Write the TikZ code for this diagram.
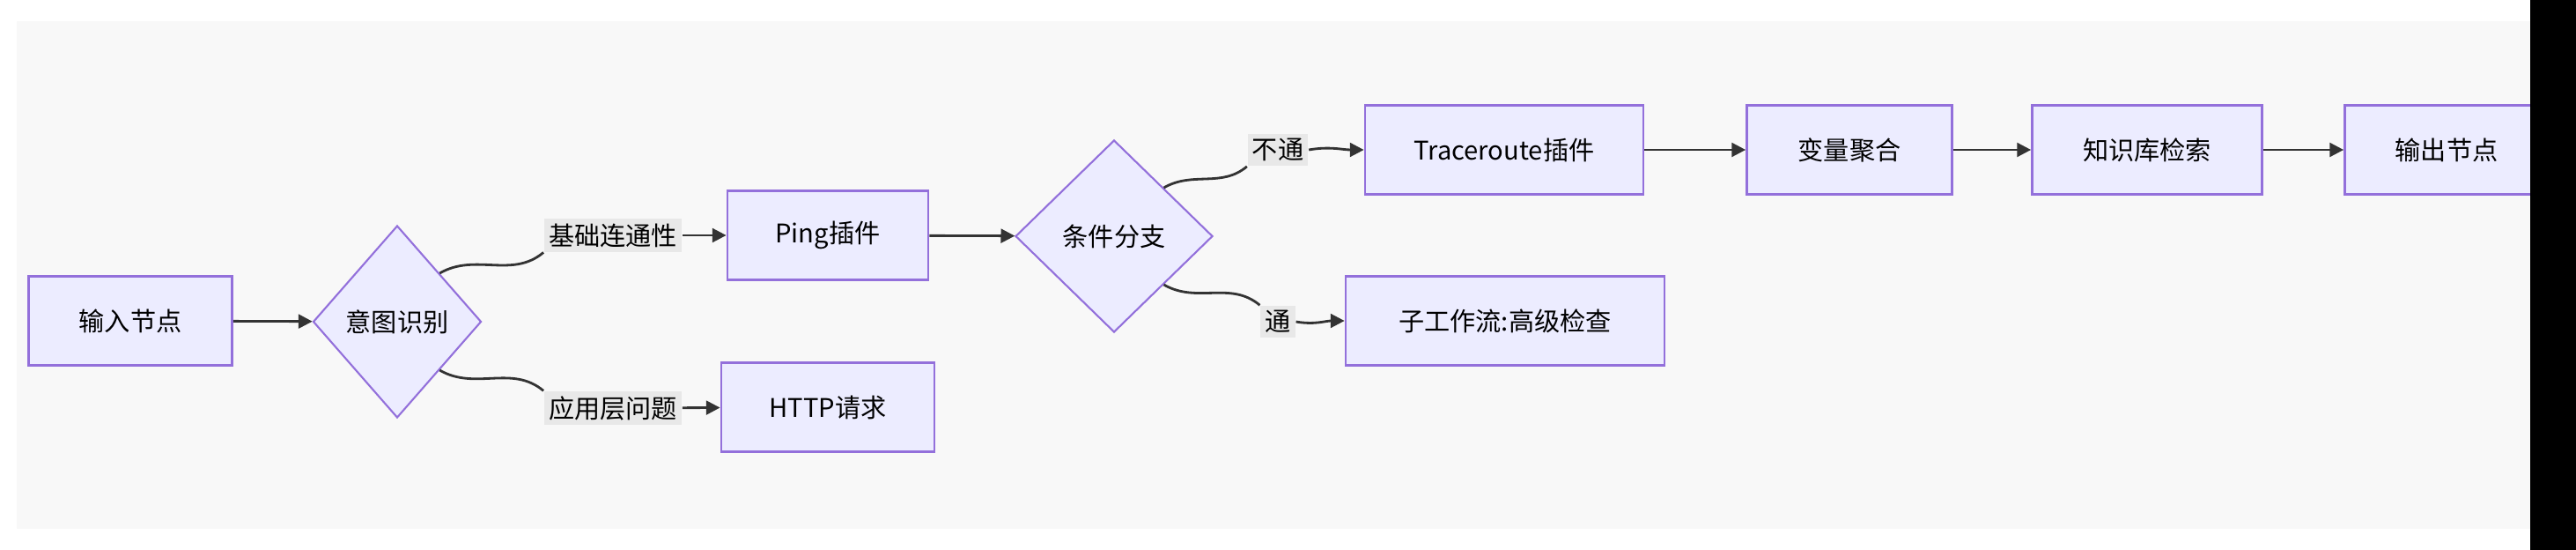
\documentclass[tikz,border=0pt]{standalone}
\usepackage{fontspec}
\setmainfont{Noto Sans CJK SC}
\usetikzlibrary{shapes.geometric,arrows.meta}
\definecolor{knotenfill}{HTML}{ECECFF}
\definecolor{knotenrand}{HTML}{9370DB}
\definecolor{hintergrund}{HTML}{F8F8F8}
\definecolor{labelfill}{HTML}{E8E8E8}
\definecolor{linie}{HTML}{333333}
\tikzset{
    kasten/.style={draw=knotenrand, fill=knotenfill, line width=0.8pt, minimum height=1.01cm, inner sep=0pt, font=\fontsize{8.3}{10}\selectfont},
    raute/.style={shape=diamond, draw=knotenrand, fill=knotenfill, line width=0.6pt, minimum width=#1, minimum height=2.18cm, inner sep=0pt, font=\fontsize{8.3}{10}\selectfont},
    beschriftung/.style={fill=labelfill, inner sep=1.5pt, font=\fontsize{8.3}{10}\selectfont},
    pfeil/.style={draw=linie, line width=0.8pt, -{Triangle[length=4.5pt,width=4.5pt]}},
    linie/.style={draw=linie, line width=0.8pt}
}
\begin{document}
\begin{tikzpicture}
    \useasboundingbox (0,0) rectangle (29.25,-6.24);
    \fill[hintergrund] (0.19,-0.24) rectangle (29.25,-6.00);

    % Knoten
    \node[kasten, minimum width=2.31cm] (eingabe) at (1.48,-3.64) {输入节点};
    \node[raute=1.91cm] (absicht) at (4.51,-3.65) {意图识别};
    \node[kasten, minimum width=2.28cm] (ping) at (9.40,-2.67) {Ping插件};
    \node[kasten, minimum width=2.42cm] (http) at (9.40,-4.62) {HTTP请求};
    \node[raute=2.24cm] (bedingung) at (12.65,-2.68) {条件分支};
    \node[kasten, minimum width=3.16cm] (trace) at (17.08,-1.70) {Traceroute插件};
    \node[kasten, minimum width=3.62cm] (sub) at (17.09,-3.64) {子工作流:高级检查};
    \node[kasten, minimum width=2.33cm] (aggregat) at (21.00,-1.70) {变量聚合};
    \node[kasten, minimum width=2.61cm] (wissen) at (24.38,-1.70) {知识库检索};
    \node[kasten, minimum width=2.31cm] (ausgabe) at (27.78,-1.70) {输出节点};

    % Beschriftungen
    \node[beschriftung] (lbasis) at (6.96,-2.67) {基础连通性};
    \node[beschriftung] (lanwendung) at (6.96,-4.63) {应用层问题};
    \node[beschriftung] (lnicht) at (14.51,-1.70) {不通};
    \node[beschriftung] (lja) at (14.51,-3.65) {通};

    % Verbindungen
    \draw[pfeil] (eingabe) -- (absicht);
    \draw[linie] (absicht.north east) to[out=30,in=220] (lbasis.south west);
    \draw[pfeil] (lbasis) -- (ping);
    \draw[linie] (absicht.south east) to[out=-30,in=140] (lanwendung.north west);
    \draw[pfeil] (lanwendung) -- (http);
    \draw[pfeil] (ping) -- (bedingung);
    \draw[linie] (bedingung.north east) to[out=30,in=220] (lnicht.south west);
    \draw[pfeil] (lnicht.east) to[out=10,in=180] (trace);
    \draw[linie] (bedingung.south east) to[out=-30,in=140] (lja.north west);
    \draw[pfeil] (lja.east) to[out=-10,in=180] (sub);
    \draw[pfeil] (trace) -- (aggregat);
    \draw[pfeil] (aggregat) -- (wissen);
    \draw[pfeil] (wissen) -- (ausgabe);

    \fill[black] (28.73,0) rectangle (29.25,-6.24);
\end{tikzpicture}
\end{document}
